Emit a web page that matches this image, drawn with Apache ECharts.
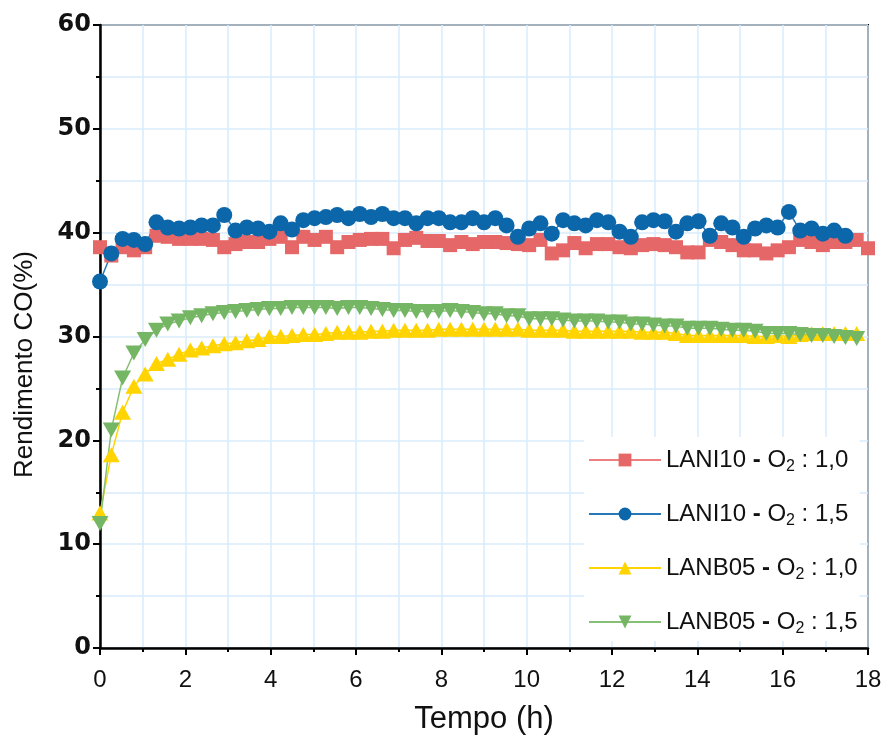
<!DOCTYPE html>
<html><head><meta charset="utf-8">
<script src="https://cdn.jsdelivr.net/npm/echarts@6/dist/echarts.min.js"></script>
<style>html,body{margin:0;padding:0;background:#fff}#c{width:885px;height:744px}</style>
</head><body><div id="c"></div>
<script>
// sampling interval (hours) between consecutive measurements
const stepHours = 18 / 68;

const lani10_O2_10 = [38.6,37.8,38.6,38.3,38.6,39.7,39.6,39.4,39.4,39.4,39.3,38.6,38.9,39.1,39.1,39.4,39.6,38.6,39.6,39.3,39.6,38.6,39.1,39.3,39.4,39.4,38.5,39.3,39.5,39.2,39.2,38.8,39.1,38.9,39.1,39.1,39.0,38.9,38.8,39.3,38.0,38.3,39.0,38.5,38.9,38.9,38.6,38.5,38.8,38.9,38.8,38.6,38.1,38.1,39.3,39.1,38.8,38.3,38.3,38.0,38.3,38.6,39.3,39.1,38.8,39.1,39.1,39.3,38.5];
const lani10_O2_15 = [35.3,38.0,39.4,39.3,38.9,41.0,40.5,40.4,40.5,40.7,40.7,41.7,40.2,40.5,40.4,40.1,40.9,40.3,41.2,41.4,41.5,41.7,41.4,41.8,41.5,41.8,41.4,41.4,40.9,41.4,41.4,41.0,41.0,41.4,41.0,41.4,40.7,39.6,40.4,40.9,39.9,41.2,40.9,40.7,41.2,41.0,40.1,39.6,41.0,41.2,41.1,40.1,40.9,41.1,39.7,40.9,40.5,39.6,40.4,40.7,40.5,42.0,40.2,40.4,39.9,40.2,39.7];
const lanb05_O2_10 = [13.0,18.6,22.7,25.2,26.4,27.4,27.8,28.3,28.7,28.9,29.1,29.3,29.4,29.6,29.7,30.0,30.0,30.1,30.2,30.2,30.3,30.4,30.4,30.4,30.5,30.5,30.6,30.6,30.6,30.6,30.7,30.7,30.7,30.7,30.7,30.7,30.7,30.7,30.6,30.6,30.6,30.6,30.5,30.5,30.5,30.5,30.5,30.5,30.4,30.4,30.4,30.3,30.1,30.1,30.1,30.1,30.1,30.1,30.0,30.0,30.1,30.0,30.2,30.3,30.3,30.3,30.3,30.3];
const lanb05_O2_15 = [12.0,21.0,26.0,28.4,29.7,30.6,31.2,31.5,31.8,32.0,32.2,32.3,32.4,32.5,32.6,32.7,32.7,32.8,32.8,32.8,32.8,32.7,32.8,32.8,32.7,32.6,32.5,32.5,32.4,32.4,32.4,32.5,32.4,32.3,32.2,32.2,32.0,32.0,31.7,31.7,31.7,31.6,31.5,31.5,31.5,31.4,31.4,31.2,31.2,31.1,31.0,31.0,30.8,30.8,30.8,30.7,30.6,30.6,30.5,30.3,30.3,30.3,30.2,30.1,30.1,30.0,29.9,29.8];

const samples = ['LANI10','LANI10','LANB05','LANB05'];
const ratios = ['1,0','1,5','1,0','1,5'];
const seriesNames = samples.map((s,i)=>s+' - O2 : '+ratios[i]);
const seriesValues = [lani10_O2_10, lani10_O2_15, lanb05_O2_10, lanb05_O2_15];
const colors = ['#e66767','#0b66aa','#ffd400','#74b663'];
const lineColors = ['#ec8080','#2878b8','#ffd400','#86c074'];
const symbols = ['rect','circle','triangle','triangle'];
const symbolRot = [0,0,0,180];
const symbolSizes = [14,16,[17,15],[17,15]];

const xMin=0,xMax=18,xInterval=2;
const yMin=0,yMax=60,yInterval=10;
const gridCol='#d8ecfb';

const chart = echarts.init(document.getElementById('c'));
chart.setOption({
  animation:false,
  backgroundColor:'#fff',
  grid:{left:100,right:17,top:25,bottom:96,show:true,borderColor:'#000',borderWidth:2,backgroundColor:'transparent'},
  xAxis:{type:'value',min:xMin,max:xMax,interval:xInterval,
    name:'Tempo (h)',nameLocation:'middle',nameGap:56,
    nameTextStyle:{fontFamily:'Liberation Sans',fontSize:31,color:'#111'},
    axisLine:{show:true,lineStyle:{color:'#000',width:2.5}},
    axisTick:{show:true,length:7,lineStyle:{color:'#000',width:2}},
    minorTick:{show:true,splitNumber:2,length:4,lineStyle:{color:'#000',width:2}},
    splitLine:{show:true,lineStyle:{color:gridCol,width:1.5}},
    minorSplitLine:{show:true,lineStyle:{color:gridCol,width:1.5}},
    axisLabel:{margin:20,fontFamily:'Liberation Sans',fontSize:24,color:'#111'}
  },
  yAxis:{type:'value',min:yMin,max:yMax,interval:yInterval,
    name:'Rendimento CO(%)',nameLocation:'middle',nameGap:62,
    nameTextStyle:{fontFamily:'Liberation Sans',fontSize:26,color:'#111',padding:[0,56,0,0]},
    axisLine:{show:true,lineStyle:{color:'#000',width:2.5}},
    axisTick:{show:true,length:7,lineStyle:{color:'#000',width:2}},
    minorTick:{show:true,splitNumber:2,length:4,lineStyle:{color:'#000',width:2}},
    splitLine:{show:true,lineStyle:{color:gridCol,width:1.5}},
    minorSplitLine:{show:true,lineStyle:{color:gridCol,width:1.5}},
    axisLabel:{margin:9,fontFamily:'DejaVu Sans',fontWeight:'bold',fontSize:24,color:'#111'}
  },
  legend:{orient:'vertical',left:584,top:437,backgroundColor:'#fff',padding:[8,2,4,4],
    itemWidth:72,itemHeight:16,itemGap:24,
    data:seriesNames,
    formatter:function(name){const k=seriesNames.indexOf(name);
      return '{t|'+samples[k]+' }{d|-}{t| O}{s|2}{t| : '+ratios[k]+'}';},
    textStyle:{fontFamily:'Liberation Sans',fontSize:24,color:'#111',
      rich:{t:{fontFamily:'Liberation Sans',fontSize:24,color:'#111',lineHeight:28},
            d:{fontFamily:'Liberation Sans',fontSize:24,fontWeight:'bold',color:'#111',lineHeight:28},
            s:{fontFamily:'Liberation Sans',fontSize:16,color:'#111',lineHeight:28,padding:[14,0,0,0]}}}
  },
  series:seriesNames.map((n,k)=>({
    name:n,type:'line',
    data:seriesValues[k].map((v,i)=>[i*stepHours,v]),
    symbol:symbols[k],symbolRotate:symbolRot[k],symbolSize:symbolSizes[k],
    showAllSymbol:true,
    lineStyle:{color:lineColors[k],width:1.5},
    itemStyle:{color:colors[k]}
  }))
});
</script></body></html>
